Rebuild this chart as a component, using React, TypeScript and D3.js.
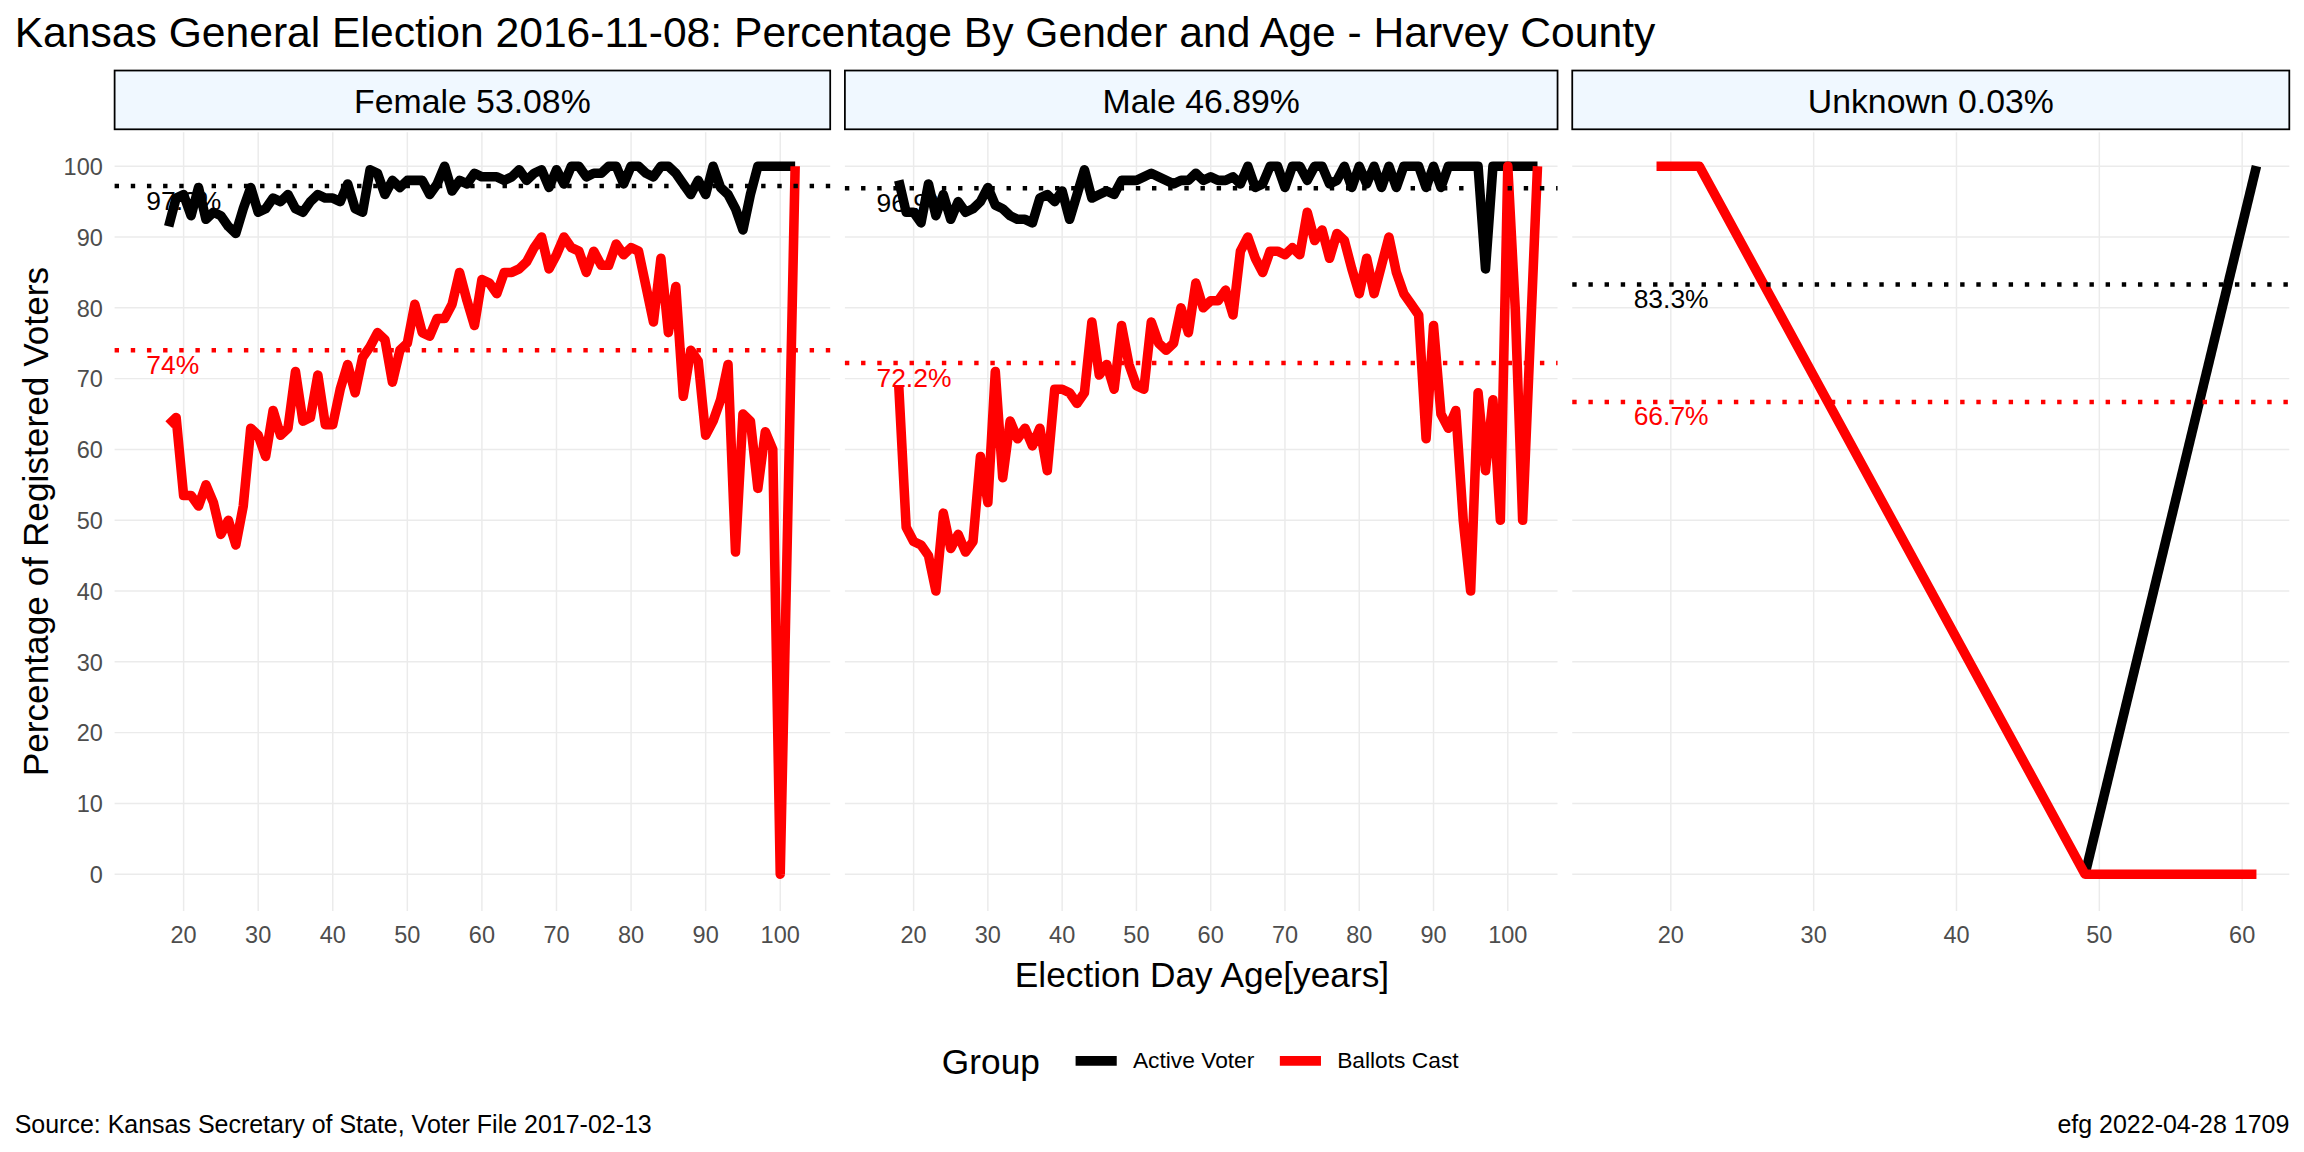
import React from 'react';
import * as d3 from 'd3';

const femaleAges = d3.range(18, 103);
const femaleActive = [91.5, 95.5, 96, 93, 97, 92.5, 93.5, 93, 91.5, 90.5, 94, 97, 93.5, 94, 95.5, 95, 96, 94, 93.5, 95, 96, 95.5, 95.5, 95, 97.5, 94, 93.5, 99.5, 99, 96, 98, 97, 98, 98, 98, 96, 97.5, 100, 96.5, 98, 97.5, 99, 98.5, 98.5, 98.5, 98, 98.5, 99.5, 98, 99, 99.5, 97, 99.5, 97.5, 100, 100, 98.5, 99, 99, 100, 100, 97.5, 100, 100, 99, 98.5, 100, 100, 99, 97.5, 96, 98, 96, 100, 97, 96, 94, 91, 96, 100, 100, 100, 100, 100, 100];
const femaleBallots = [63.5, 64.5, 53.5, 53.5, 52, 55, 52.5, 48, 50, 46.5, 52, 63, 62, 59, 65.5, 62, 63, 71, 64, 64.5, 70.5, 63.5, 63.5, 68.5, 72, 68, 73, 74.5, 76.5, 75.5, 69.5, 74, 75, 80.5, 76.5, 76, 78.5, 78.5, 80.5, 85, 81, 77.5, 84, 83.5, 82, 85, 85, 85.5, 86.5, 88.5, 90, 85.5, 87.5, 90, 88.5, 88, 85, 88, 86, 86, 89, 87.5, 88.5, 88, 83, 78, 87, 76.5, 83, 67.5, 74, 72.5, 62, 64, 67, 72, 45.5, 65, 64, 54.5, 62.5, 60, 0, 50, 100];

const maleAges = d3.range(18, 105);
const maleActive = [98, 93.5, 93.5, 92, 97.5, 93, 96, 92.5, 95, 93.5, 94, 95, 97, 94.5, 94, 93, 92.5, 92.5, 92, 95.5, 96, 95, 96.5, 92.5, 96, 99.5, 95.5, 96, 96.5, 96, 98, 98, 98, 98.5, 99, 98.5, 98, 97.5, 98, 98, 99, 98, 98.5, 98, 98, 98.5, 97.5, 100, 97, 97.5, 100, 100, 97, 100, 100, 98, 100, 100, 97.5, 98, 100, 97, 100, 97.5, 100, 97, 100, 97, 100, 100, 100, 97, 100, 97, 100, 100, 100, 100, 100, 85.5, 100, 100, 100, 100, 100, 100, 100];
const maleBallots = [69, 49, 47, 46.5, 45, 40, 51, 46, 48, 45.5, 47, 59, 52.5, 71, 56, 64, 61.5, 63, 60.5, 63, 57, 68.5, 68.5, 68, 66.5, 68, 78, 70.5, 72, 68.5, 77.5, 72, 69, 68.5, 78, 75, 74, 75, 80, 76.5, 83.5, 80, 81, 81, 82.5, 79, 88, 90, 87, 85, 88, 88, 87.5, 88.5, 87.5, 93.5, 89.5, 91, 87, 90.5, 89.5, 85.5, 82, 87, 82, 86, 90, 85, 82, 80.5, 79, 61.5, 77.5, 65, 63, 65.5, 50, 40, 68, 57, 67, 50, 100, 80, 50, 75, 100];

const unknownActiveAges = [49, 61];
const unknownActive = [0, 100];
const unknownBallotsAges = [19, 22, 49, 61];
const unknownBallots = [100, 100, 0, 0];

const panelTitles = ['Female 53.08%', 'Male 46.89%', 'Unknown 0.03%'];
const activeMeans = [97.2, 96.9, 83.3];
const ballotMeans = [74, 72.2, 66.7];
const activeLabels = ['97.2%', '96.9%', '83.3%'];
const ballotLabels = ['74%', '72.2%', '66.7%'];
const xTicks = [[20, 30, 40, 50, 60, 70, 80, 90, 100], [20, 30, 40, 50, 60, 70, 80, 90, 100], [20, 30, 40, 50, 60]];
const yTicks = d3.range(0, 101, 10);

const FONT = '"Liberation Sans", Arial, sans-serif';

const App: React.FC = () => {
  const top = 90;
  const bottom = 620;
  const panels = [
    { x0: 78, x1: 565, domain: [10.75, 106.7], series: [
      { ages: femaleAges, vals: femaleActive, color: '#000' },
      { ages: femaleAges, vals: femaleBallots, color: '#ff0000' }], labelX: 15 },
    { x0: 575, x1: 1060, domain: [10.75, 106.7], series: [
      { ages: maleAges, vals: maleActive, color: '#000' },
      { ages: maleAges, vals: maleBallots, color: '#ff0000' }], labelX: 15 },
    { x0: 1070, x1: 1558, domain: [13.1, 63.3], series: [
      { ages: unknownActiveAges, vals: unknownActive, color: '#000' },
      { ages: unknownBallotsAges, vals: unknownBallots, color: '#ff0000' }], labelX: 15.4 + 2 },
  ];
  const y = d3.scaleLinear().domain([-5.2, 104.8]).range([bottom, top]);

  return (
    <svg width={2304} height={1152} viewBox="0 0 1568 784"
      style={{ position: 'absolute', left: 0, top: 0, background: '#fff', whiteSpace: 'pre' }} fontFamily={FONT}>
      <rect width={1568} height={784} fill="#fff" />
      <text x={10} y={32} fontSize={29}>Kansas General Election 2016-11-08:  Percentage By Gender and Age - Harvey County</text>

      {yTicks.map(t => (
        <text key={t} x={70} y={y(t) + 6} textAnchor="end" fontSize={16} fill="#4d4d4d">{t}</text>
      ))}

      {panels.map((p, i) => {
        const x = d3.scaleLinear().domain(p.domain).range([p.x0, p.x1]);
        return (
          <g key={i}>
            <rect x={p.x0} y={48} width={p.x1 - p.x0} height={40} fill="#f0f8ff" stroke="#000" strokeWidth={1.2} />
            <text x={(p.x0 + p.x1) / 2} y={77} textAnchor="middle" fontSize={23}>{panelTitles[i]}</text>
            {yTicks.map(t => (
              <line key={'y' + t} x1={p.x0} x2={p.x1} y1={y(t)} y2={y(t)} stroke="#ebebeb" strokeWidth={1} />
            ))}
            {xTicks[i].map(t => (
              <g key={'x' + t}>
                <line x1={x(t)} x2={x(t)} y1={top} y2={bottom} stroke="#ebebeb" strokeWidth={1} />
                <text x={x(t)} y={642} textAnchor="middle" fontSize={16} fill="#4d4d4d">{t}</text>
              </g>
            ))}
            {p.series.map((s, k) => {
              const pts = s.ages.map((a, j) => [x(a), y(s.vals[j])] as [number, number]);
              return <path key={k} d={d3.line()(pts) || ''} fill="none" stroke={s.color} strokeWidth={6.5} strokeLinejoin="round" />;
            })}
            <line x1={p.x0} x2={p.x1} y1={y(activeMeans[i])} y2={y(activeMeans[i])} stroke="#000" strokeWidth={3} strokeDasharray="3 8" />
            <line x1={p.x0} x2={p.x1} y1={y(ballotMeans[i])} y2={y(ballotMeans[i])} stroke="#ff0000" strokeWidth={3} strokeDasharray="3 8" />
            <text x={x(p.labelX)} y={y(activeMeans[i]) + 16} fontSize={18} fill="#000">{activeLabels[i]}</text>
            <text x={x(p.labelX)} y={y(ballotMeans[i]) + 16} fontSize={18} fill="#ff0000">{ballotLabels[i]}</text>
          </g>
        );
      })}

      <text transform="translate(33,355) rotate(-90)" textAnchor="middle" fontSize={24}>Percentage of Registered Voters</text>
      <text x={818} y={672} textAnchor="middle" fontSize={24}>Election Day Age[years]</text>

      <text x={641} y={731} fontSize={24}>Group</text>
      <line x1={732} x2={760} y1={722} y2={722} stroke="#000" strokeWidth={6.5} />
      <text x={771} y={727} fontSize={15.5}>Active Voter</text>
      <line x1={871} x2={899} y1={722} y2={722} stroke="#ff0000" strokeWidth={6.5} />
      <text x={910} y={727} fontSize={15.5}>Ballots Cast</text>

      <text x={10} y={771} fontSize={17}>Source:  Kansas Secretary of State, Voter File  2017-02-13</text>
      <text x={1558} y={771} textAnchor="end" fontSize={17}>efg 2022-04-28 1709</text>
    </svg>
  );
};

export default App;
